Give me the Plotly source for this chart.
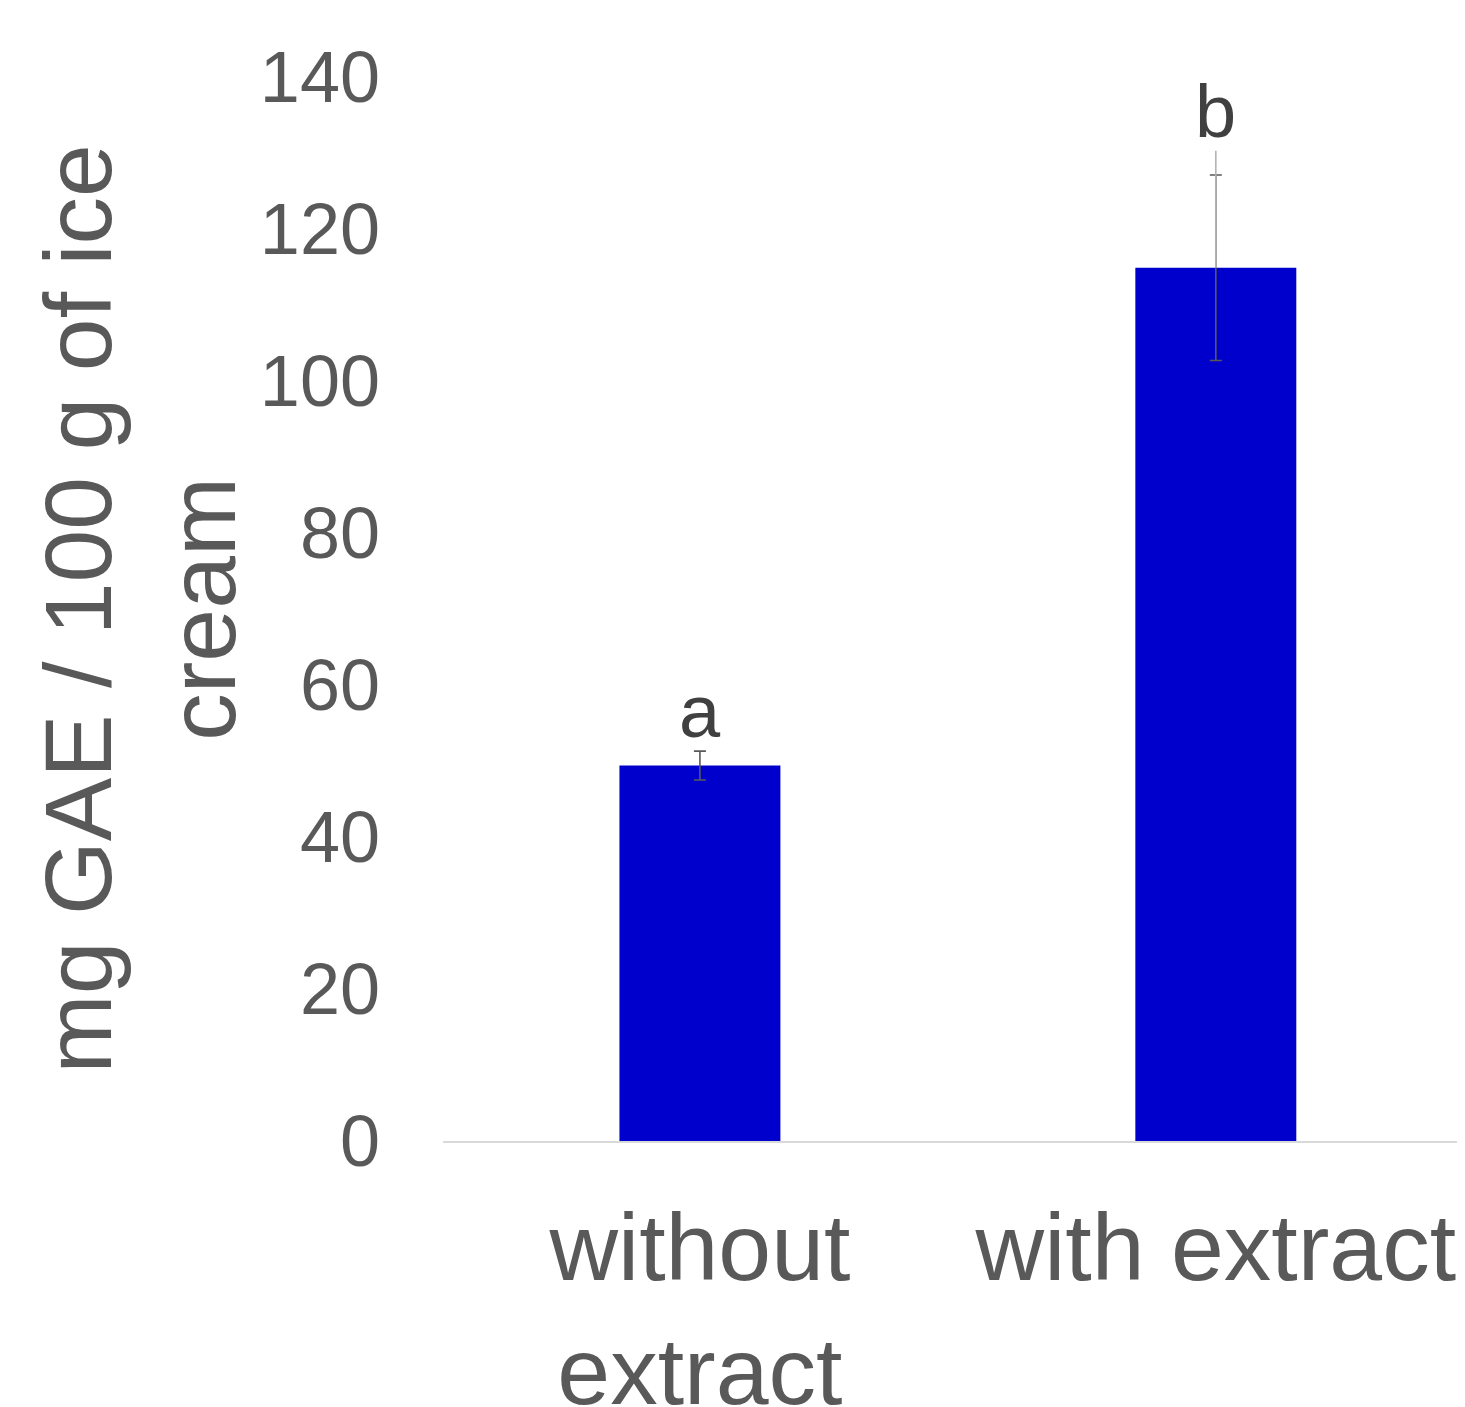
import plotly.graph_objects as go

categories = ["without<br>extract", "with extract"]
values = [49.4, 114.9]
errors = [1.9, 12.2]
extra_up = [0.0, 15.4]
letters = ["a", "b"]
y_ticks = [0, 20, 40, 60, 80, 100, 120, 140]

FONT = "Liberation Sans, Arial, sans-serif"

fig = go.Figure()
fig.add_trace(go.Bar(
    x=categories, y=values, width=0.312,
    marker=dict(color="#0000CC", line=dict(width=0)),
    error_y=dict(type="data", array=errors, visible=True,
                 color="#595959", thickness=1.6, width=6),
    showlegend=False,
))
fig.add_trace(go.Scatter(
    x=categories, y=values, mode="markers",
    marker=dict(opacity=0, size=1),
    error_y=dict(type="data", array=extra_up, arrayminus=[0, 0], symmetric=False,
                 visible=True, color="#b3b3b3", thickness=1.6, width=0),
    showlegend=False, hoverinfo="skip",
))

for c, v, e, ex, t in zip(categories, values, errors, extra_up, letters):
    fig.add_annotation(x=c, y=v + max(e, ex), text=t, showarrow=False,
                       yanchor="bottom", yshift=-4,
                       font=dict(family=FONT, size=74, color="#404040"))

fig.add_annotation(xref="paper", yref="paper", x=-0.296, y=0.5,
                   text="mg GAE / 100 g of ice<br>cream", textangle=-90,
                   showarrow=False, xanchor="center", yanchor="middle",
                   font=dict(family=FONT, size=95, color="#595959"))

fig.update_layout(
    width=1457, height=1399,
    margin=dict(l=435, r=0, t=69, b=266, autoexpand=False),
    paper_bgcolor="white", plot_bgcolor="white",
    xaxis=dict(showline=True, linecolor="#d9d9d9", linewidth=2,
               showgrid=False, ticks="", range=[-0.498, 1.483],
               automargin=False,
               tickfont=dict(family=FONT, size=95, color="#595959"),
               ticklabelstandoff=23),
    yaxis=dict(range=[0, 140], tickvals=y_ticks, showgrid=False,
               zeroline=False, showline=False, ticks="", automargin=False,
               tickfont=dict(family=FONT, size=72, color="#595959"),
               ticklabelstandoff=62),
)

fig.write_html("out.html")
